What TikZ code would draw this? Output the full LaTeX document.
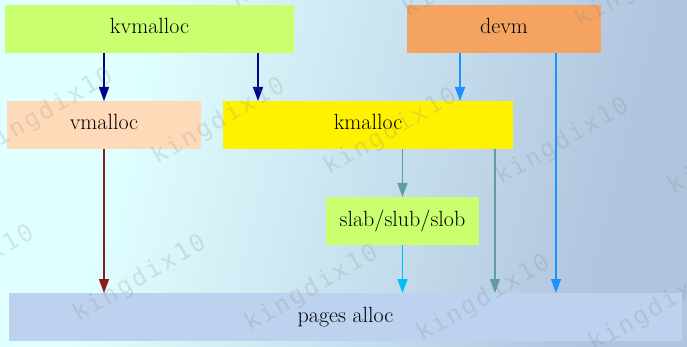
\documentclass[tikz,border=0pt]{standalone}
\usepackage{fontspec}
\newfontfamily\wmfont[LetterSpace=10]{DejaVu Sans Mono}
\usetikzlibrary{arrows.meta}

\definecolor{bgcyan}{HTML}{E0FFFF}
\definecolor{bgsteel}{HTML}{B0C4DE}
\definecolor{olivelight}{HTML}{CAFF70}
\definecolor{peach}{HTML}{FFDAB9}
\definecolor{sandy}{HTML}{F4A460}
\definecolor{pagesblue}{HTML}{BCD2EE}
\definecolor{navyedge}{HTML}{00008B}
\definecolor{dodger}{HTML}{1E90FF}
\definecolor{brickdark}{HTML}{8B1A1A}
\definecolor{cadet}{HTML}{5F9EA0}
\definecolor{deepsky}{HTML}{00BFFF}

% background gradient: flat cyan, linear blend, flat steel blue
\pgfdeclarehorizontalshading{bgsh}{100bp}{color(0bp)=(bgcyan); color(37.5bp)=(bgcyan); color(62.5bp)=(bgsteel); color(100bp)=(bgsteel)}

\begin{document}
\begin{tikzpicture}[x=1pt,y=-1pt,
  box/.style={draw=none, inner sep=0pt, outer sep=0pt,
    font=\fontsize{22}{26}\selectfont, text height=16pt, text depth=6pt},
  edge/.style={line width=1.3pt, -{Triangle[length=14pt,width=10pt]}},
  wm/.style={font=\wmfont\fontsize{24}{24}\selectfont, text=gray,
    opacity=0.2, rotate=30, anchor=base west, inner sep=0pt}]
\useasboundingbox (0,0) rectangle (687,347);

\begin{scope}
  \clip (0,0) rectangle (687,347);
  \shade[shading=bgsh, transform canvas={shift={(370,173)}, rotate=-14}]
    (-500,-400) rectangle (500,400);
\end{scope}

% boxes
\node[box, fill=olivelight, minimum width=289pt, minimum height=48pt] (kv) at (149.5,29) {kvmalloc};
\node[box, fill=sandy, minimum width=194pt, minimum height=48pt] (dv) at (504,29) {devm};
\node[box, fill=peach, minimum width=194pt, minimum height=48pt] (vm) at (104,125) {vmalloc};
\node[box, fill=yellow, minimum width=290pt, minimum height=48pt] (km) at (368,125) {kmalloc};
\node[box, fill=olivelight, minimum width=153pt, minimum height=48pt] (sl) at (402.5,221) {slab/slub/slob};
\node[box, fill=pagesblue, minimum width=673pt, minimum height=48pt] (pg) at (345.5,317) {pages alloc};

% columns where the connectors run
\coordinate (colA) at (258,0);
\coordinate (colB) at (460,0);
\coordinate (colC) at (556,0);
\coordinate (colD) at (495,0);

% connectors
\draw[edge, navyedge] (kv.south -| vm.north) -- (vm.north);
\draw[edge, navyedge] (kv.south -| colA) -- (km.north -| colA);
\draw[edge, dodger] (dv.south -| colB) -- (km.north -| colB);
\draw[edge, dodger] (dv.south -| colC) -- (pg.north -| colC);
\draw[edge, brickdark] (vm.south) -- (pg.north -| vm.south);
\draw[edge, cadet] (km.south -| sl.north) -- (sl.north);
\draw[edge, cadet] (km.south -| colD) -- (pg.north -| colD);
\draw[edge, deepsky] (sl.south) -- (pg.north -| sl.south);

% watermark
\begin{scope}
  \clip (0,0) rectangle (687,347);
  \foreach \px/\py [count=\i] in {64/-2, 236/8, 408/18, 580/28,
      -15/155, 157/165, 329/175, 501/185, 673/195,
      -94/312, 78/322, 250/332, 422/342, 594/352}
    \node[wm] (wm\i) at (\px,\py) {kingdix10};
\end{scope}
\end{tikzpicture}
\end{document}
